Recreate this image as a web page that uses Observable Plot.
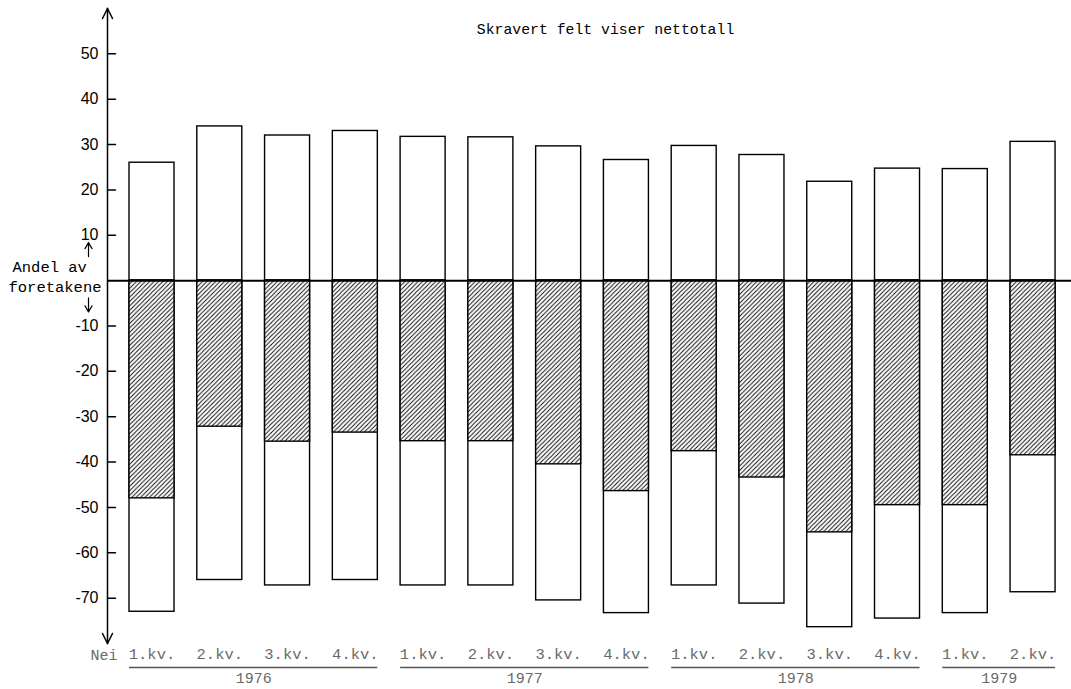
<!DOCTYPE html>
<html>
<head>
<meta charset="utf-8">
<script src="https://cdn.jsdelivr.net/npm/d3@7"></script>
<script src="https://cdn.jsdelivr.net/npm/@observablehq/plot@0.6"></script>
<style>
  html, body { margin: 0; padding: 0; background: #fff; }
  #chart { width: 1071px; height: 689px; overflow: hidden; }
</style>
</head>
<body>
<div id="chart"></div>
<script>
// ---- data ----
const years    = [1976, 1976, 1976, 1976, 1977, 1977, 1977, 1977, 1978, 1978, 1978, 1978, 1979, 1979];
const quarters = ["1.kv.", "2.kv.", "3.kv.", "4.kv.", "1.kv.", "2.kv.", "3.kv.", "4.kv.", "1.kv.", "2.kv.", "3.kv.", "4.kv.", "1.kv.", "2.kv."];
const ja       = [26, 34, 32, 33, 31.7, 31.6, 29.6, 26.6, 29.7, 27.7, 21.8, 24.7, 24.6, 30.6];
const nei      = [73, 66, 67.2, 66, 67.2, 67.2, 70.5, 73.3, 67.2, 71.2, 76.4, 74.5, 73.3, 68.7];
const netto    = [-48, -32.2, -35.5, -33.5, -35.4, -35.4, -40.5, -46.4, -37.6, -43.4, -55.5, -49.5, -49.5, -38.5];
const yTicks   = [-70, -60, -50, -40, -30, -20, -10, 10, 20, 30, 40, 50];
const yearLabels = ["1976", "1977", "1978", "1979"];
const subtitle = "Skravert felt viser nettotall";

// ---- derived table ----
const rows = years.map((y, i) => ({
  id: `${y}-${i}`, year: String(y), quarter: quarters[i],
  ja: ja[i], nei: -nei[i], netto: netto[i]
}));
const ids = rows.map(d => d.id);
const labelOf = new Map(rows.map(d => [d.id, d.quarter]));
const groups = yearLabels.map(y => {
  const g = rows.filter(d => d.year === y);
  return {year: y, first: g[0].id, last: g[g.length - 1].id, mid: g[Math.floor((g.length - 1) / 2)].id};
});

const mono = "'Liberation Mono', 'DejaVu Sans Mono', monospace";
const gray = "#6a6a6a";

const tickShape = {draw(ctx, l) { ctx.moveTo(0, 0); ctx.lineTo(l, 0); }};
const headShape = {draw(ctx) { ctx.moveTo(-5, 10); ctx.lineTo(0, 0); ctx.lineTo(5, 10); }};
const smallArrow = {draw(ctx, l) {
  ctx.moveTo(0, 0); ctx.lineTo(0, -l);
  ctx.moveTo(-3.5, -l + 6); ctx.lineTo(0, -l); ctx.lineTo(3.5, -l + 6);
}};

function build(halfStep) {
  return Plot.plot({
    width: 1071,
    height: 689,
    marginLeft: 107,
    marginRight: 0,
    marginTop: 8,
    marginBottom: 46,
    style: {fontFamily: "'Liberation Sans', Arial, sans-serif", fontSize: "16px", background: "#fff", color: "#000"},
    x: {type: "band", domain: ids, paddingInner: 0.336, paddingOuter: 0.28, align: 0.58, round: false, label: null},
    y: {domain: [-80, 60], label: null},
    marks: [
      // bars
      Plot.barY(rows, {x: "id", y1: 0, y2: "ja", fill: "white", stroke: "black", strokeWidth: 1.4}),
      Plot.barY(rows, {x: "id", y1: 0, y2: "nei", fill: "white", stroke: "black", strokeWidth: 1.4}),
      Plot.barY(rows, {x: "id", y1: 0, y2: "netto", fill: "url(#hatch)", stroke: "black", strokeWidth: 1.4}),
      Plot.ruleY([0], {stroke: "black", strokeWidth: 2}),
      // y axis line, arrows, ticks
      Plot.frame({anchor: "left", stroke: "black", strokeWidth: 1.5}),
      Plot.vector([60], {y: d => d, frameAnchor: "left", length: 10, anchor: "start", rotate: 0, shape: headShape, stroke: "black", strokeWidth: 1.5}),
      Plot.vector([-80], {y: d => d, frameAnchor: "left", length: 10, anchor: "start", rotate: 180, shape: headShape, stroke: "black", strokeWidth: 1.5}),
      Plot.vector(yTicks, {y: d => d, frameAnchor: "left", length: 8, anchor: "start", rotate: 0, shape: tickShape, stroke: "black", strokeWidth: 1.5}),
      Plot.axisY({ticks: yTicks, tickSize: 0, tickPadding: 9, tickFormat: d => String(d), fontSize: 16}),
      // x axis labels
      Plot.axisX({tickSize: 0, tickPadding: 4, tickFormat: d => labelOf.get(d), fontFamily: mono, fontSize: 15.5, color: gray}),
      // year underline + labels
      Plot.ruleY(groups, {x1: "first", x2: "last", y: -85.3, stroke: "#555", strokeWidth: 1.5}),
      Plot.text(groups, {x: "mid", y: -87.7, text: "year", dx: halfStep, fontFamily: mono, fontSize: 15, fill: gray}),
      // left-side annotations
      Plot.text(["Andel av"], {y: 3.1, frameAnchor: "left", dx: -95, textAnchor: "start", fontFamily: mono, fontSize: 15.5, fill: "black"}),
      Plot.text(["foretakene"], {y: -1.3, frameAnchor: "left", dx: -99, textAnchor: "start", fontFamily: mono, fontSize: 15.5, fill: "black"}),
      Plot.vector([5.3], {y: d => d, frameAnchor: "left", dx: -19, length: 14, anchor: "start", rotate: 0, shape: smallArrow, stroke: "black", strokeWidth: 1.2}),
      Plot.vector([-3.8], {y: d => d, frameAnchor: "left", dx: -19, length: 14, anchor: "start", rotate: 180, shape: smallArrow, stroke: "black", strokeWidth: 1.2}),
      Plot.text(["Nei"], {y: -82.5, frameAnchor: "left", dx: 10, textAnchor: "end", fontFamily: mono, fontSize: 15, fill: gray}),
      // subtitle
      Plot.text([subtitle], {frameAnchor: "top", dx: 16, dy: 15, textAnchor: "middle", fontFamily: mono, fontSize: 14.8, fill: "black"})
    ]
  });
}

const probe = build(0);
const half = probe.scale("x").step / 2;
const chart = build(half);

// hatch pattern definition
const svg = d3.select(chart);
const defs = svg.insert("defs", ":first-child");
const s = 4.4;
const pat = defs.append("pattern")
  .attr("id", "hatch")
  .attr("patternUnits", "userSpaceOnUse")
  .attr("width", s).attr("height", s);
pat.append("rect").attr("width", s).attr("height", s).attr("fill", "white");
pat.append("path")
  .attr("d", `M0,${s} L${s},0 M${-s / 2},${s / 2} L${s / 2},${-s / 2} M${s / 2},${s * 1.5} L${s * 1.5},${s / 2}`)
  .attr("stroke", "black").attr("stroke-width", 0.9);

document.getElementById("chart").appendChild(chart);
</script>
</body>
</html>
